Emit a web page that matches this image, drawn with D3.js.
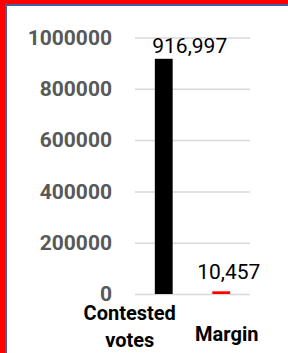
<!DOCTYPE html>
<html>
<head>
<meta charset="utf-8">
<script src="https://cdn.jsdelivr.net/npm/d3@7"></script>
<style>
  body { margin: 0; background: #fff; }
  .frame { position: absolute; left: 0; top: 0; width: 288px; height: 353px; overflow: hidden; }
</style>
</head>
<body>
<div class="frame"><svg id="chart"></svg></div>
<script>
// data
const categories = [['Contested', 'votes'], ['Margin']];
const values = [916997, 10457];
const yTicks = [0, 200000, 400000, 600000, 800000, 1000000];

// styles / placement tweaks (labels were nudged by hand in the original)
const barColors = ['#000000', '#ff0000'];
const labelShift = [{dx: 26, dy: -5.7}, {dx: 7.5, dy: -12.7}];
const catShift = [{dx: -34, dy: 25.8}, {dx: 5.5, dy: 46.7}];

const svg_width = 288, svg_height = 353;
const plot = {left: 135, right: 250, top: 37.5, bottom: 294};

const svg = d3.select('#chart').attr('width', svg_width).attr('height', svg_height);

// frame: red outer + thin blue inner (only top/left visible)
svg.append('rect').attr('x', 0).attr('y', 0).attr('width', svg_width).attr('height', svg_height).style('fill', '#ffffff');
svg.append('rect').attr('x', 0).attr('y', 0).attr('width', 5).attr('height', svg_height).style('fill', '#ff0000');
svg.append('rect').attr('x', 0).attr('y', 0).attr('width', svg_width).attr('height', 4).style('fill', '#ff0000');
svg.append('rect').attr('x', 5).attr('y', 4).attr('width', 2).attr('height', svg_height).style('fill', '#41609f');
svg.append('rect').attr('x', 5).attr('y', 4).attr('width', svg_width).attr('height', 2).style('fill', '#41609f');

// scales
const xScale = d3.scaleBand().domain(d3.range(values.length))
  .range([plot.left, plot.right]).paddingInner(0.69).paddingOuter(0.345);
const yScale = d3.scaleLinear().domain([0, 1000000]).range([plot.bottom, plot.top]);

// y axis + gridlines
const yAxis = d3.axisLeft(yScale).tickValues(yTicks).tickFormat(d3.format('d'))
  .tickSizeInner(-(plot.right - plot.left)).tickSizeOuter(0).tickPadding(23);
const yAxisDraw = svg.append('g').attr('class', 'y axis')
  .attr('transform', `translate(${plot.left},0)`)
  .call(yAxis);
yAxisDraw.select('.domain').remove();
yAxisDraw.selectAll('line').style('stroke', '#d9d9d9').style('stroke-width', 1.5);
yAxisDraw.selectAll('text')
  .style('font-family', 'Roboto, sans-serif').style('font-size', '21px')
  .style('font-weight', 'bold').style('fill', '#595959');

// bars
svg.append('g').selectAll('.bar').data(values).enter()
  .append('rect').attr('class', 'bar')
  .attr('x', (d, i) => xScale(i))
  .attr('y', d => yScale(d))
  .attr('width', xScale.bandwidth())
  .attr('height', d => yScale(0) - yScale(d))
  .style('fill', (d, i) => barColors[i]);

// value labels
svg.append('g').selectAll('.value-label').data(values).enter()
  .append('text').attr('class', 'value-label')
  .attr('x', (d, i) => xScale(i) + xScale.bandwidth() / 2 + labelShift[i].dx)
  .attr('y', (d, i) => yScale(d) + labelShift[i].dy)
  .attr('text-anchor', 'middle')
  .text(d => d3.format(',')(d))
  .style('font-family', 'Roboto, sans-serif').style('font-size', '21px').style('fill', '#000');

// category labels
const cat = svg.append('g').selectAll('.cat-label').data(categories).enter()
  .append('text').attr('class', 'cat-label')
  .attr('text-anchor', 'middle')
  .style('font-family', 'Roboto, sans-serif').style('font-size', '20px')
  .style('font-weight', 'bold').style('fill', '#000');
cat.each(function(lines, i) {
  const cx = xScale(i) + xScale.bandwidth() / 2 + catShift[i].dx;
  const y0 = yScale(0) + catShift[i].dy;
  d3.select(this).selectAll('tspan').data(lines).enter()
    .append('tspan').attr('x', cx).attr('y', (d, j) => y0 + j * 27.2).text(d => d);
});
</script>
</body>
</html>
